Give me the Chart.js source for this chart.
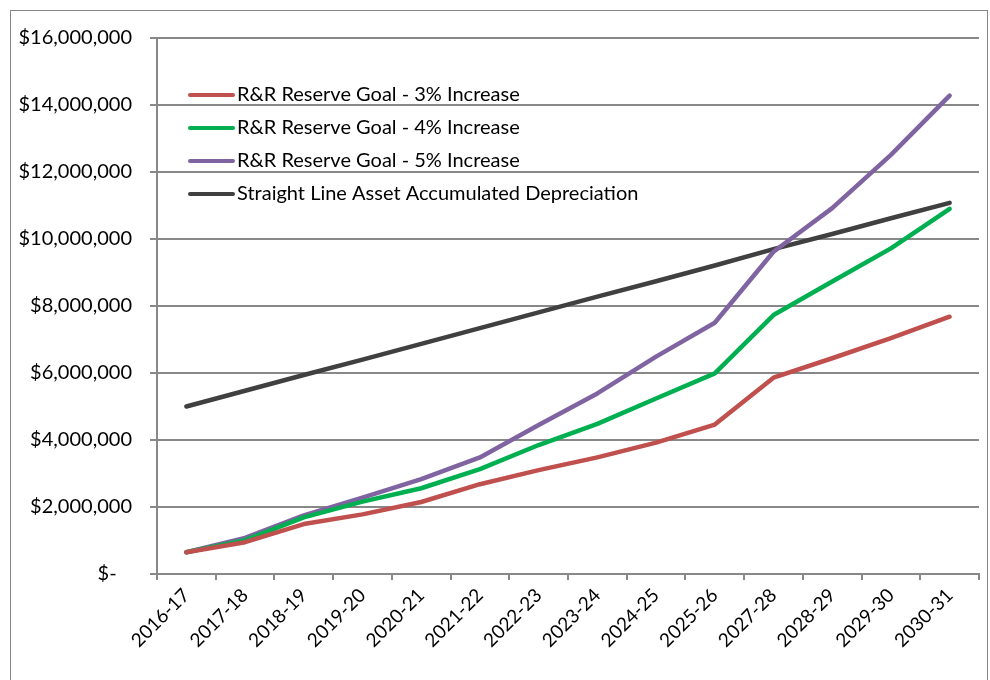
<!DOCTYPE html>
<html><head><meta charset="utf-8">
<script src="https://cdn.jsdelivr.net/npm/chart.js@4.4.1/dist/chart.umd.min.js"></script>
<style>
html,body{margin:0;padding:0;background:#fff;}
#wrap{position:relative;width:990px;height:680px;overflow:hidden;}
#frame{position:absolute;left:10px;top:10px;width:978px;height:700px;border:1px solid #868686;box-sizing:border-box;}
canvas{position:absolute;left:0;top:0;}
</style></head><body>
<div id="wrap"><div id="frame"></div><canvas id="c" width="990" height="680"></canvas></div>
<script>
const categories = ['2016-17','2017-18','2018-19','2019-20','2020-21','2021-22','2022-23','2023-24','2024-25','2025-26','2027-28','2028-29','2029-30','2030-31'];
const goal3 = [650000, 950000, 1490000, 1780000, 2150000, 2680000, 3100000, 3480000, 3920000, 4460000, 5860000, 6440000, 7040000, 7680000];
const goal4 = [650000, 1010000, 1690000, 2160000, 2560000, 3130000, 3850000, 4480000, 5240000, 5990000, 7730000, 8730000, 9720000, 10900000];
const goal5 = [650000, 1080000, 1750000, 2280000, 2830000, 3480000, 4450000, 5390000, 6490000, 7500000, 9620000, 10920000, 12510000, 14280000];
const depreciation = [5000000, 5470000, 5940000, 6400000, 6870000, 7340000, 7810000, 8280000, 8740000, 9210000, 9700000, 10150000, 10620000, 11080000];
const yTicks = [0, 2000000, 4000000, 6000000, 8000000, 10000000, 12000000, 14000000, 16000000];
const seriesLabels = ['R&R Reserve Goal - 3% Increase','R&R Reserve Goal - 4% Increase','R&R Reserve Goal - 5% Increase','Straight Line Asset Accumulated Depreciation'];
const colors = ['#C0504D','#00B050','#8064A2','#404040'];

const FONT = 'Lato, "Open Sans", sans-serif';
const grid = '#888888';

const legendPlugin = {
  id: 'inlegend',
  afterDraw(chart){
    const ctx = chart.ctx;
    const ys = [95,128,161,194];
    ctx.save();
    chart.data.datasets.forEach((ds,i)=>{
      ctx.strokeStyle = ds.borderColor;
      ctx.lineWidth = 4;
      ctx.lineCap = 'round';
      ctx.beginPath(); ctx.moveTo(190, ys[i]); ctx.lineTo(233, ys[i]); ctx.stroke();
      ctx.fillStyle = '#000';
      ctx.font = '20px ' + FONT;
      ctx.textBaseline = 'middle';
      ctx.textAlign = 'left';
      ctx.fillText(ds.label, 237, ys[i]);
    });
    ctx.restore();
  }
};

const mk = (label, data, color) => ({label, data, borderColor: color, backgroundColor: color, borderWidth: 4.5, pointRadius: 0, tension: 0, fill: false, borderCapStyle: 'round', borderJoinStyle: 'round'});

new Chart(document.getElementById('c'), {
  type: 'line',
  data: {
    labels: categories,
    datasets: [mk(seriesLabels[0], goal3, colors[0]), mk(seriesLabels[1], goal4, colors[1]), mk(seriesLabels[2], goal5, colors[2]), mk(seriesLabels[3], depreciation, colors[3])]
  },
  options: {
    responsive: false,
    animation: false,
    devicePixelRatio: 1,
    layout: {padding: {top: 38, right: 11, bottom: 0, left: 0}},
    plugins: {legend: {display: false}, tooltip: {enabled: false}},
    scales: {
      x: {
        offset: true,
        grid: {display: true, drawOnChartArea: false, offset: true, color: grid, tickLength: 6, lineWidth: 2},
        border: {color: grid, width: 2},
        ticks: {font: {family: FONT, size: 19}, color: '#000', maxRotation: 45, minRotation: 45, padding: 4, autoSkip: false},
        afterFit(s){ s.height = 106; }
      },
      y: {
        min: 0, max: 16000000,
        afterBuildTicks(s){ s.ticks = yTicks.map(v=>({value:v})); },
        grid: {color: grid, lineWidth: 2, tickLength: 7},
        border: {color: grid, width: 2},
        ticks: {font: {family: FONT, size: 20}, color: '#000', padding: 18,
          callback: v => v === 0 ? '$-   ' : '$' + v.toLocaleString('en-US')},
        afterFit(s){ s.width = 157; }
      }
    }
  },
  plugins: [legendPlugin]
});
</script>
</body></html>
